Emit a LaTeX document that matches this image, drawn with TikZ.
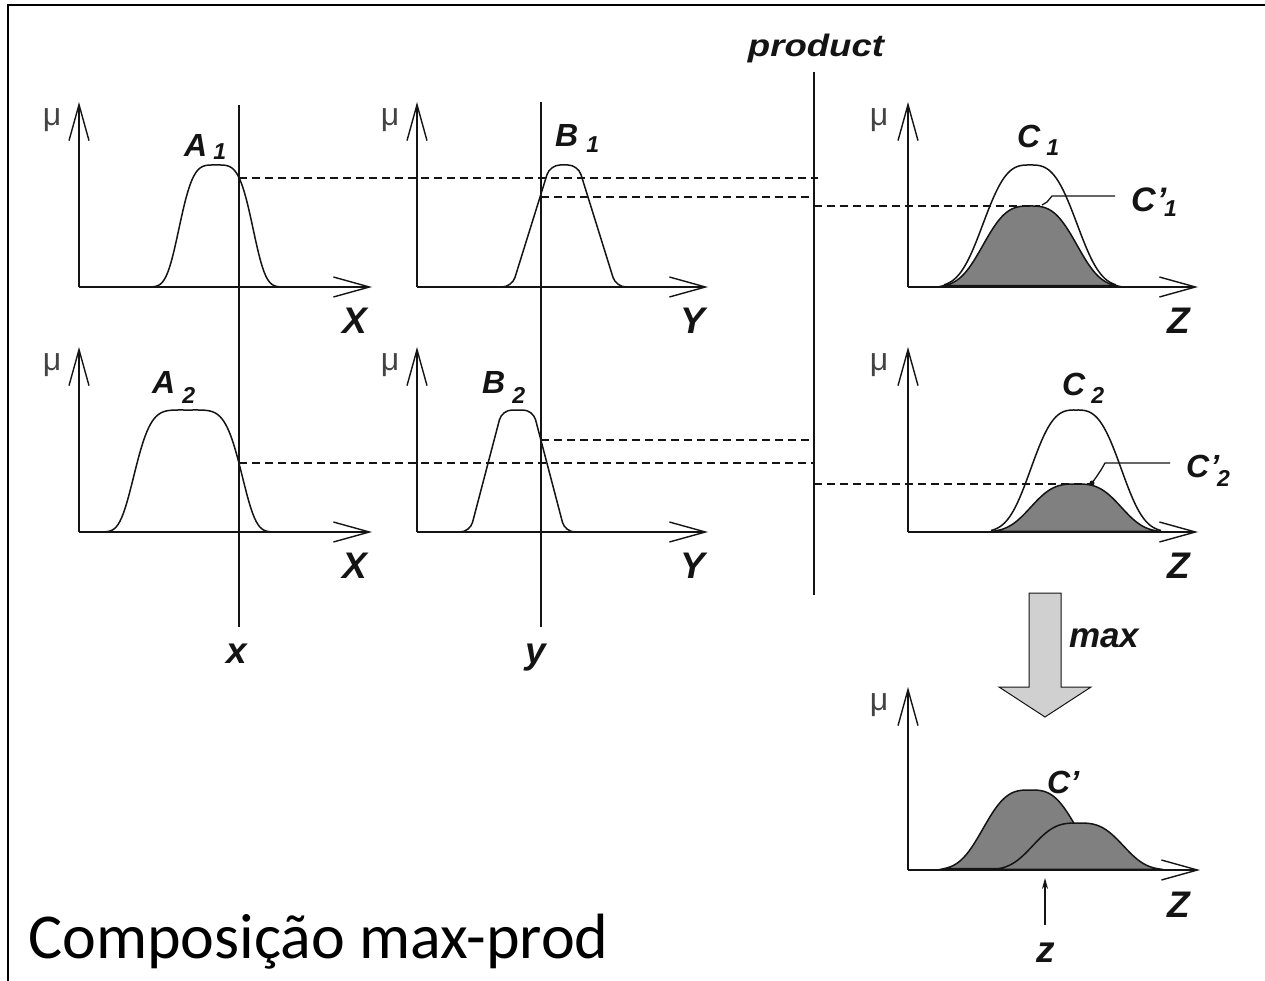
\documentclass[tikz,border=0pt]{standalone}
\usepackage{fontspec}
\setmainfont{Liberation Sans}
\newfontfamily\carlito{Carlito}
\usetikzlibrary{arrows.meta}
\definecolor{shade}{RGB}{128,128,128}
\definecolor{arrowgray}{RGB}{208,208,208}
\definecolor{ink}{RGB}{20,20,20}
\pgfmathdeclarefunction{bell}{4}{\pgfmathparse{exp(-((abs(#1-#2)+0.01)/#3)^#4)}}
\newcommand\subsz{\fontsize{23}{25}\selectfont}
\begin{document}
\begin{tikzpicture}[x=1pt,y=-1pt,
  axis/.style={line width=1.8pt, draw=ink, -{Straight Barb[length=36pt,width=20pt,line width=1.4pt]}},
  curve/.style={line width=1.5pt, draw=ink},
  cfill/.style={line width=1.5pt, draw=ink, fill=shade},
  guide/.style={line width=1.6pt, draw=ink},
  dashline/.style={line width=1.6pt, draw=ink, dash pattern=on 8pt off 5pt},
  leader/.style={line width=1.3pt, draw=ink},
  lbl/.style={font=\fontsize{32}{36}\selectfont\bfseries\itshape, inner sep=0pt, text=ink},
  big/.style={font=\fontsize{37}{40}\selectfont\bfseries\itshape, inner sep=0pt, text=ink},
  mu/.style={font=\fontsize{32}{34}\selectfont, inner sep=0pt, text=ink!80}]
\useasboundingbox (0,0) rectangle (1265,981);
\fill[white] (0,0) rectangle (1265,981);
% frame
\draw[line width=2pt] (8,981) -- (8,5) -- (1265,5);

% ---------- row 1 ----------
\draw[axis] (79,287) -- (79,102);
\draw[axis] (79,287) -- (372,287);
\draw[axis] (417,287) -- (417,102);
\draw[axis] (417,287) -- (708,287);
\draw[axis] (908,287) -- (908,102);
\draw[axis] (908,287) -- (1198,287);
% ---------- row 2 ----------
\draw[axis] (79,532) -- (79,347);
\draw[axis] (79,532) -- (372,532);
\draw[axis] (417,532) -- (417,347);
\draw[axis] (417,532) -- (708,532);
\draw[axis] (908,532) -- (908,347);
\draw[axis] (908,532) -- (1198,532);
% ---------- bottom ----------
\draw[axis] (908,870) -- (908,687);
\draw[axis] (908,870) -- (1200,870);

% mu labels
\node[mu, anchor=base] (mu1) at (52,126) {μ};
\node[mu, anchor=base] (mu2) at (390,126) {μ};
\node[mu, anchor=base] (mu3) at (879,126) {μ};
\node[mu, anchor=base] (mu4) at (52,370) {μ};
\node[mu, anchor=base] (mu5) at (390,370) {μ};
\node[mu, anchor=base] (mu6) at (879,370) {μ};
\node[mu, anchor=base] (mu7) at (879,710) {μ};

% axis names
\node[big, anchor=base] (X1) at (355,333) {X};
\node[big, anchor=base] (Y1) at (693,333) {Y};
\node[big, anchor=base] (Z1) at (1179,333) {Z};
\node[big, anchor=base] (X2) at (355,578) {X};
\node[big, anchor=base] (Y2) at (693,578) {Y};
\node[big, anchor=base] (Z2) at (1179,578) {Z};
\node[big, anchor=base] (Z3) at (1179,917) {Z};

% input lines
\coordinate (xt) at (239,105);
\coordinate (xb) at (239,627);
\coordinate (yt) at (541,102);
\coordinate (yb) at (541,627);
\coordinate (pt) at (814,72);
\coordinate (pb) at (814,595);
\draw[guide] (xt) -- (xb);
\draw[guide] (yt) -- (yb);
\draw[guide] (pt) -- (pb);
\node[big, anchor=base] (xl) at (237,663) {x};
\node[big, anchor=base] (yl) at (536,663) {y};
\node[lbl, anchor=base, font=\fontsize{31}{33}\selectfont\bfseries\itshape, xscale=1.18] (prod) at (816,57) {product};

% membership functions
\draw[curve] plot[domain=148:284, samples=90] (\x,{287-122*bell(\x,216,40,4)});
\draw[curve] plot[domain=98:278, samples=100] (\x,{532-122*bell(\x,188,57,5)});
\draw[curve, rounded corners=10pt] (490,287) -- (512,287) -- (550,165) -- (578,165) -- (616,287) -- (632,287);
\draw[curve, rounded corners=10pt] (452,532) -- (470,532) -- (502,410) -- (533,410) -- (565,532) -- (582,532);

% consequents
\filldraw[cfill] plot[domain=944:1116, samples=90] (\x,{287-81*bell(\x,1030,54,3)}) -- cycle;
\draw[curve] plot[domain=944:1116, samples=90] (\x,{287-122*bell(\x,1030,54,3)});
\filldraw[cfill] plot[domain=991:1161, samples=90] (\x,{532-48*bell(\x,1076,52,3)}) -- cycle;
\draw[curve] plot[domain=991:1161, samples=90] (\x,{532-122*bell(\x,1076,52,3)});

% dashed levels
\coordinate (a1) at (239,178);
\coordinate (b1) at (541,197);
\coordinate (a2) at (239,463);
\coordinate (b2) at (541,440);
\coordinate (c1p) at (1040,206);
\coordinate (c2p) at (1090,484);
\draw[dashline] (a1) -- (818,178);
\draw[dashline] (b1) -- (814,197);
\draw[dashline] (814,206) -- (c1p);
\draw[dashline] (a2) -- (814,463);
\draw[dashline] (b2) -- (814,440);
\draw[dashline] (814,484) -- (c2p);

% labels of sets
\node[lbl, anchor=base west] (A1) at (184,157) {A\hspace{6pt}\raisebox{-3pt}{\subsz 1}};
\node[lbl, anchor=base west] (B1) at (555,147) {B\hspace{8pt}\raisebox{-6pt}{\subsz 1}};
\node[lbl, anchor=base west] (C1) at (1017,148) {C\hspace{6pt}\raisebox{-8pt}{\subsz 1}};
\node[lbl, anchor=base west] (A2) at (152,393) {A\hspace{7pt}\raisebox{-10pt}{\subsz 2}};
\node[lbl, anchor=base west] (B2) at (482,393) {B\hspace{7pt}\raisebox{-10pt}{\subsz 2}};
\node[lbl, anchor=base west] (C2) at (1062,395) {C\hspace{6pt}\raisebox{-8pt}{\subsz 2}};
\node[lbl, anchor=base west, font=\fontsize{34}{36}\selectfont\bfseries\itshape] (C1s) at (1131,212) {C\kern1pt’\kern-2pt\raisebox{-5pt}{\subsz 1}};
\node[lbl, anchor=base west] (C2s) at (1186,477) {C\kern1pt’\kern-2pt\raisebox{-9pt}{\subsz 2}};

% leaders
\coordinate (l1) at (1042,205);
\coordinate (l2) at (1092,483);
\draw[leader] (l1) -- (1047,202) -- (1052,196) -- (1115,196);
\fill[ink] (l2) circle (2.5pt);
\draw[leader] (l2) -- (1097,476) -- (1101,470) -- (1105,463) -- (1170,463);

% max arrow
\filldraw[fill=arrowgray, draw=ink, line width=1pt] (1029,593) -- (1061,593) -- (1061,687) -- (1091,687) -- (1045,717) -- (999,687) -- (1029,687) -- cycle;
\node[lbl, anchor=base west, font=\fontsize{35}{37}\selectfont\bfseries\itshape] (max) at (1069,647) {max};

% aggregated output
\filldraw[cfill] plot[domain=944:1116, samples=90] (\x,{870-80*bell(\x,1030,54,3)}) -- cycle;
\filldraw[cfill] plot[domain=993:1163, samples=90] (\x,{870-47*bell(\x,1078,52,3)}) -- cycle;
\node[lbl, anchor=base west] (Cs) at (1047,793) {C’};

% crisp output
\coordinate (zb) at (1045,925);
\coordinate (zt) at (1045,878);
\draw[line width=1.5pt, draw=ink, -{Stealth[length=11pt,width=6pt]}] (zb) -- (zt);
\node[big, anchor=base] (zl) at (1046,962) {z};

% caption
\node[anchor=base west, inner sep=0pt, font=\carlito\fontsize{64}{70}\selectfont] (cap) at (28,958) {Composição max-prod};
\end{tikzpicture}
\end{document}
